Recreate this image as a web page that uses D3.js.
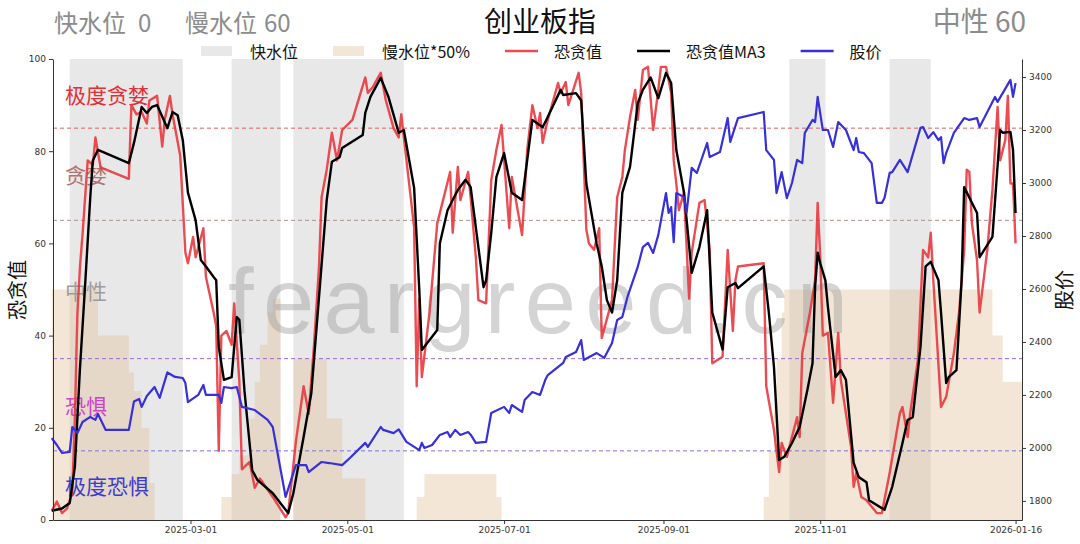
<!DOCTYPE html>
<html>
<head>
<meta charset="utf-8">
<script src="https://cdn.jsdelivr.net/npm/d3@7"></script>
<style>
  body { margin: 0; background: #fff; }
  svg { display: block; font-family: "Noto Sans CJK SC", "DejaVu Sans", sans-serif; }
  .eixo text { font-family: "DejaVu Sans", sans-serif; font-size: 9px; fill: #333; }
  .eixo path, .eixo line { stroke: #333; }
</style>
</head>
<body>
<svg id="grafico" width="1080" height="544"></svg>
<script>
// ---- dados ----
const titulo = "创业板指";
const fastLevel = 0;
const slowLevel = 60;
const moodName = "中性";
const moodValue = 60;

// 恐贪值 (escala esquerda)
const fearGreed = [
  ["2025-01-06",2],["2025-01-08",4],["2025-01-10",1.5],["2025-01-12",2.5],["2025-01-14",6],["2025-01-15",22],
  ["2025-01-16",45],["2025-01-17",55],["2025-01-18",62],["2025-01-20",78],["2025-01-22",77],["2025-01-23",83],
  ["2025-01-25",76.5],["2025-02-05",74],["2025-02-06",90],["2025-02-08",88],["2025-02-10",88.5],["2025-02-12",86],
  ["2025-02-13",91],["2025-02-16",92],["2025-02-18",81],["2025-02-19",87],["2025-02-21",92],["2025-02-22",88],
  ["2025-02-25",79],["2025-02-27",58],["2025-02-28",55.7],["2025-03-02",61.4],["2025-03-03",57],["2025-03-06",63.3],
  ["2025-03-07",52.7],["2025-03-10",45],["2025-03-11",42],["2025-03-12",15],["2025-03-13",40],["2025-03-15",41],
  ["2025-03-17",38],["2025-03-18",47],["2025-03-20",30],["2025-03-21",11],["2025-03-24",12.6],["2025-03-26",7],
  ["2025-03-28",9],["2025-04-02",5],["2025-04-07",0.6],["2025-04-08",1.5],["2025-04-11",17],["2025-04-14",29],
  ["2025-04-16",23],["2025-04-18",37.5],["2025-04-20",55],["2025-04-21",70],["2025-04-23",76],["2025-04-25",84],
  ["2025-04-27",78],["2025-04-29",84.6],["2025-05-03",86.8],["2025-05-08",96],["2025-05-09",92.6],["2025-05-11",94],
  ["2025-05-14",97],["2025-05-16",91],["2025-05-19",85],["2025-05-21",83],["2025-05-22",88],["2025-05-23",83],
  ["2025-05-27",63.5],["2025-05-28",29],["2025-05-29",48],["2025-05-30",31],["2025-06-02",45],["2025-06-05",64.4],
  ["2025-06-07",68.8],["2025-06-10",75.5],["2025-06-11",62.3],["2025-06-13",76.6],["2025-06-14",69.4],["2025-06-17",75.5],
  ["2025-06-18",70],["2025-06-20",57],["2025-06-21",47.7],["2025-06-24",47],["2025-06-26",73.7],["2025-06-28",80.3],
  ["2025-06-30",85.7],["2025-07-03",63.3],["2025-07-04",74.4],["2025-07-08",61.8],["2025-07-10",80.3],["2025-07-12",90],
  ["2025-07-14",85],["2025-07-15",88.3],["2025-07-16",81.8],["2025-07-18",86.8],["2025-07-22",94.8],["2025-07-23",92.6],
  ["2025-07-25",95],["2025-07-26",90],["2025-07-30",97],["2025-07-31",92.6],["2025-08-02",63],["2025-08-03",60],
  ["2025-08-05",58.6],["2025-08-07",63.3],["2025-08-08",39.5],["2025-08-12",47.7],["2025-08-14",70],["2025-08-16",74.4],
  ["2025-08-17",80.3],["2025-08-19",87.4],["2025-08-21",93.3],["2025-08-22",86.8],["2025-08-24",97.6],["2025-08-26",98.3],
  ["2025-08-28",84.6],["2025-08-30",93.3],["2025-08-31",98.3],["2025-09-02",98.3],["2025-09-04",92.6],["2025-09-05",78],
  ["2025-09-06",73],["2025-09-07",67.2],["2025-09-09",71],["2025-09-11",48],["2025-09-12",58],["2025-09-15",68.8],
  ["2025-09-17",69.4],["2025-09-19",58.6],["2025-09-20",34],["2025-09-24",35.4],["2025-09-26",58.6],["2025-09-28",41],
  ["2025-09-29",52],["2025-09-30",55],["2025-10-10",55.7],["2025-10-11",29],["2025-10-14",19.5],["2025-10-16",10.4],
  ["2025-10-17",16.7],["2025-10-19",13.7],["2025-10-23",22.3],["2025-10-24",18],["2025-10-25",36.2],["2025-10-28",45],
  ["2025-10-30",52],["2025-10-31",68.8],["2025-11-01",57],["2025-11-02",40],["2025-11-04",40.6],["2025-11-06",25.4],
  ["2025-11-08",40.6],["2025-11-09",30.4],["2025-11-13",15.8],["2025-11-14",7.2],["2025-11-15",10.2],["2025-11-17",5],
  ["2025-11-19",4.3],["2025-11-23",1.5],["2025-11-25",1.5],["2025-11-28",10.2],["2025-12-02",23.2],["2025-12-03",24.5],
  ["2025-12-05",18],["2025-12-06",23.2],["2025-12-09",34.7],["2025-12-11",58.6],["2025-12-13",57],["2025-12-14",62.3],
  ["2025-12-15",52],["2025-12-18",24.5],["2025-12-20",26.7],["2025-12-23",36.2],["2025-12-25",45],["2025-12-27",58.6],
  ["2025-12-28",76],["2025-12-29",75.5],["2025-12-30",64.4],["2026-01-01",56.4],["2026-01-02",45],["2026-01-05",58.6],
  ["2026-01-07",71.6],["2026-01-09",89.6],["2026-01-10",78],["2026-01-12",82.4],["2026-01-13",92],["2026-01-14",73],
  ["2026-01-15",73],["2026-01-16",60]
];

// 恐贪值MA3
const fearGreedMA3 = [
  ["2025-01-06",2],["2025-01-10",2.5],["2025-01-13",3.7],["2025-01-15",11.5],["2025-01-17",33],["2025-01-19",51],
  ["2025-01-21",70],["2025-01-22",78],["2025-01-24",80.3],["2025-02-05",77.4],["2025-02-07",81.8],["2025-02-10",89.6],
  ["2025-02-12",88.3],["2025-02-14",89.6],["2025-02-16",90],["2025-02-20",85],["2025-02-22",88.5],["2025-02-24",87.8],
  ["2025-02-26",82.4],["2025-02-28",71],["2025-03-03",65],["2025-03-05",56.4],["2025-03-07",55],["2025-03-10",52.7],
  ["2025-03-11",52],["2025-03-12",37.5],["2025-03-14",30.4],["2025-03-17",31],["2025-03-19",44],["2025-03-20",43.4],
  ["2025-03-22",28],["2025-03-25",10.8],["2025-03-27",8.7],["2025-04-02",5.8],["2025-04-08",1.5],["2025-04-10",5.8],
  ["2025-04-14",18],["2025-04-17",27.5],["2025-04-20",48.4],["2025-04-23",69.4],["2025-04-25",77.7],["2025-04-28",78.7],
  ["2025-04-29",80.7],["2025-05-07",83.5],["2025-05-08",88.3],["2025-05-10",91.8],["2025-05-14",95.9],["2025-05-17",91.8],
  ["2025-05-21",84],["2025-05-23",84.6],["2025-05-27",72],["2025-05-29",50],["2025-05-30",36.9],["2025-06-05",41.2],
  ["2025-06-06",60],["2025-06-09",67.2],["2025-06-11",69.4],["2025-06-13",71.6],["2025-06-16",73.8],["2025-06-18",72.2],
  ["2025-06-21",59.2],["2025-06-23",50.5],["2025-06-24",52],["2025-06-26",62.3],["2025-06-28",74.4],["2025-07-01",79.6],
  ["2025-07-04",71],["2025-07-08",69.4],["2025-07-12",86.8],["2025-07-16",85.2],["2025-07-17",86.3],["2025-07-23",93.3],
  ["2025-07-24",92.2],["2025-07-29",92.6],["2025-07-31",91],["2025-08-02",73],["2025-08-06",60],["2025-08-08",55],
  ["2025-08-10",47.7],["2025-08-12",45],["2025-08-14",52],["2025-08-16",71],["2025-08-19",76.6],["2025-08-22",90.4],
  ["2025-08-24",93.3],["2025-08-27",96],["2025-08-30",91.5],["2025-09-02",97],["2025-09-04",94.8],["2025-09-06",80.3],
  ["2025-09-09",71],["2025-09-12",53.6],["2025-09-15",59.2],["2025-09-18",67.2],["2025-09-20",45],["2025-09-24",37],
  ["2025-09-26",50.5],["2025-09-29",51.4],["2025-09-30",50.3],["2025-10-10",55],["2025-10-12",45],["2025-10-14",33.2],
  ["2025-10-16",13],["2025-10-18",13.7],["2025-10-21",16.7],["2025-10-24",20.2],["2025-10-27",28.2],["2025-10-29",34],
  ["2025-10-30",50.5],["2025-10-31",58],["2025-11-01",55.7],["2025-11-03",52],["2025-11-04",46.2],["2025-11-07",31],
  ["2025-11-09",32.5],["2025-11-11",30.4],["2025-11-14",12.4],["2025-11-16",9.3],["2025-11-19",8.2],["2025-11-20",4.3],
  ["2025-11-26",2.2],["2025-11-29",7.2],["2025-12-03",16.7],["2025-12-05",21.7],["2025-12-07",22.3],["2025-12-10",37.5],
  ["2025-12-12",55],["2025-12-14",56],["2025-12-17",52],["2025-12-18",45],["2025-12-20",29.7],["2025-12-21",31],
  ["2025-12-24",32.5],["2025-12-26",52],["2025-12-27",72.2],["2026-01-01",66.6],["2026-01-02",57],["2026-01-07",61.4],
  ["2026-01-10",84.6],["2026-01-11",84],["2026-01-14",84.2],["2026-01-15",80.3],["2026-01-16",66.6]
];

// 股价 (escala direita)
const price = [
  ["2025-01-06",2037],["2025-01-08",2011],["2025-01-10",1981],["2025-01-13",1985],["2025-01-14",2079],["2025-01-16",2056],
  ["2025-01-18",2098],["2025-01-21",2117],["2025-01-23",2106],["2025-01-24",2128],["2025-01-27",2068],["2025-02-05",2068],
  ["2025-02-07",2175],["2025-02-09",2185],["2025-02-10",2155],["2025-02-12",2196],["2025-02-15",2230],["2025-02-17",2189],
  ["2025-02-20",2285],["2025-02-23",2268],["2025-02-26",2264],["2025-02-27",2245],["2025-02-28",2173],["2025-03-04",2200],
  ["2025-03-06",2238],["2025-03-07",2200],["2025-03-12",2200],["2025-03-13",2170],["2025-03-14",2230],["2025-03-17",2226],
  ["2025-03-19",2230],["2025-03-21",2155],["2025-03-26",2143],["2025-03-31",2106],["2025-04-02",2079],["2025-04-07",1815],
  ["2025-04-10",1905],["2025-04-11",1935],["2025-04-15",1935],["2025-04-16",1909],["2025-04-21",1947],["2025-04-24",1943],
  ["2025-04-29",1935],["2025-05-02",1962],["2025-05-08",2019],["2025-05-09",2004],["2025-05-14",2079],["2025-05-15",2068],
  ["2025-05-19",2056],["2025-05-21",2070],["2025-05-24",2023],["2025-05-29",1992],["2025-05-30",2019],["2025-05-31",2000],
  ["2025-06-03",2011],["2025-06-06",2049],["2025-06-09",2060],["2025-06-10",2041],["2025-06-12",2068],["2025-06-14",2049],
  ["2025-06-17",2060],["2025-06-18",2050],["2025-06-20",2019],["2025-06-24",2023],["2025-06-26",2132],["2025-07-01",2155],
  ["2025-07-03",2132],["2025-07-04",2162],["2025-07-08",2136],["2025-07-09",2181],["2025-07-12",2211],["2025-07-15",2200],
  ["2025-07-17",2256],["2025-07-18",2275],["2025-07-24",2321],["2025-07-25",2343],["2025-07-29",2362],["2025-07-31",2407],
  ["2025-08-01",2332],["2025-08-06",2358],["2025-08-09",2340],["2025-08-12",2396],["2025-08-14",2483],["2025-08-16",2494],
  ["2025-08-18",2570],["2025-08-22",2683],["2025-08-24",2758],["2025-08-26",2774],["2025-08-28",2736],["2025-08-30",2804],
  ["2025-09-02",2962],["2025-09-03",2887],["2025-09-04",2909],["2025-09-05",2777],["2025-09-06",2962],["2025-09-09",2947],
  ["2025-09-10",2887],["2025-09-12",3057],["2025-09-14",3038],["2025-09-18",3151],["2025-09-19",3098],["2025-09-23",3117],
  ["2025-09-26",3245],["2025-09-27",3155],["2025-09-30",3245],["2025-10-10",3268],["2025-10-11",3124],["2025-10-14",3087],
  ["2025-10-15",2962],["2025-10-17",3041],["2025-10-19",2943],["2025-10-21",3000],["2025-10-23",3087],["2025-10-25",3075],
  ["2025-10-26",3189],["2025-10-29",3238],["2025-10-30",3230],["2025-10-31",3325],["2025-11-02",3200],["2025-11-04",3200],
  ["2025-11-06",3136],["2025-11-08",3230],["2025-11-11",3200],["2025-11-14",3124],["2025-11-15",3170],["2025-11-16",3117],
  ["2025-11-18",3113],["2025-11-21",3075],["2025-11-23",2925],["2025-11-25",2925],["2025-11-26",2943],["2025-11-28",3038],
  ["2025-11-29",3041],["2025-12-02",3087],["2025-12-05",3041],["2025-12-10",3208],["2025-12-11",3211],["2025-12-13",3170],
  ["2025-12-15",3192],["2025-12-17",3162],["2025-12-18",3173],["2025-12-19",3075],["2025-12-20",3113],["2025-12-23",3189],
  ["2025-12-27",3245],["2025-12-29",3238],["2026-01-01",3245],["2026-01-02",3211],["2026-01-08",3325],["2026-01-09",3306],
  ["2026-01-14",3389],["2026-01-15",3325],["2026-01-16",3377]
];

// 快水位: periodos ativos (faixas cinza)
const fastWater = [
  ["2025-01-13","2025-02-26"],
  ["2025-03-17","2025-04-05"],
  ["2025-04-10","2025-05-23"],
  ["2025-10-20","2025-11-03"],
  ["2025-11-28","2025-12-14"]
];

// 慢水位*50% (degraus)
const slowWater50 = [
  ["2025-01-06",50],["2025-01-24",40],["2025-02-05",32],["2025-02-07",28],["2025-02-10",20],["2025-02-13",8],
  ["2025-02-15",0],["2025-03-13",5],["2025-03-17",10],["2025-03-20",14],["2025-03-24",22],["2025-03-26",30],
  ["2025-03-28",38],["2025-03-31",45],["2025-04-02",48],["2025-04-05",0],["2025-04-10",35],["2025-04-23",22],
  ["2025-04-29",9],["2025-05-08",0],["2025-05-28",5],["2025-05-31",10],["2025-06-28",5],["2025-06-30",0],
  ["2025-10-10",5],["2025-10-12",15],["2025-10-14",25],["2025-10-15",35],["2025-10-17",45],["2025-10-18",50],
  ["2026-01-07",40],["2026-01-11",30],["2026-01-16",30]
];

const zoneLines = [85, 65, 35, 15];
const zoneLabels = ["极度贪婪", "贪婪", "中性", "恐惧", "极度恐惧"];
const zoneCenters = [92.5, 75, 50, 25, 7.5];

const xTicks = ["2025-03-01", "2025-05-01", "2025-07-01", "2025-09-01", "2025-11-01", "2026-01-16"];
const yTicks = [0, 20, 40, 60, 80, 100];
const priceTicks = [1800, 2000, 2200, 2400, 2600, 2800, 3000, 3200, 3400];
const legendNames = ["快水位", "慢水位*50%", "恐贪值", "恐贪值MA3", "股价"];

// ---- estilos ----
const cores = {
  fast: "#d9d9d9", slow: "#e4c199", fg: "#e8333a", ma: "#000000", price: "#3730d8",
  header: "#8c8c8c", watermark: "#a0a0a0"
};
const coresLinhasZona = ["#e06060", "#b09090", "#9a6ad6", "#7c74dc"];
const coresTextoZona = ["#e0303a", "#b07272", "#9c9c9c", "#cc44cc", "#3b3bd0"];

// ---- montagem ----
const parse = d3.timeParse("%Y-%m-%d");
const svg = d3.select("#grafico");
const area = { left: 53, right: 1022, top: 59, bottom: 520 };

const x = d3.scaleTime()
  .domain([new Date(2025, 0, 6, 12), new Date(2026, 0, 18, 12)])
  .range([area.left, area.right]);
const y = d3.scaleLinear().domain([0, 100]).range([area.bottom, area.top]);
const yPrice = d3.scaleLinear().domain([1728, 3468]).range([area.bottom, area.top]);

const converter = lista => lista.map(([d, v]) => ({ date: parse(d), v }));
const fg = converter(fearGreed);
const ma = converter(fearGreedMA3);
const px = converter(price);
const slow = converter(slowWater50);
// o ultimo degrau vai ate a borda do grafico
slow.push({ date: x.domain()[1], v: slow[slow.length - 1].v });

// faixas do 快水位
svg.append("g").selectAll("rect")
  .data(fastWater)
  .enter().append("rect")
    .attr("x", d => x(parse(d[0])))
    .attr("width", d => x(parse(d[1])) - x(parse(d[0])))
    .attr("y", area.top)
    .attr("height", area.bottom - area.top)
    .attr("fill", cores.fast)
    .attr("fill-opacity", 0.6);

// area do 慢水位*50%
svg.append("path")
  .datum(slow)
  .attr("fill", cores.slow)
  .attr("fill-opacity", 0.4)
  .attr("d", d3.area().curve(d3.curveStepAfter)
    .x(d => x(d.date)).y0(y(0)).y1(d => y(d.v)));

// marca d'agua
svg.append("text")
  .attr("x", 228).attr("y", 333)
  .attr("textLength", 620).attr("lengthAdjust", "spacing")
  .style("font-family", "'Liberation Sans', Arial, sans-serif")
  .style("font-size", "92px")
  .attr("fill", cores.watermark).attr("fill-opacity", 0.45)
  .text("feargreed.cn");

// linhas tracejadas das zonas
svg.append("g").selectAll("line")
  .data(zoneLines)
  .enter().append("line")
    .attr("x1", area.left).attr("x2", area.right)
    .attr("y1", d => y(d)).attr("y2", d => y(d))
    .attr("stroke", (d, i) => coresLinhasZona[i])
    .attr("stroke-width", 1)
    .attr("stroke-dasharray", "4,3");

// rotulos das zonas
svg.append("g").selectAll("text")
  .data(zoneLabels)
  .enter().append("text")
    .attr("x", 65)
    .attr("y", (d, i) => y(zoneCenters[i]))
    .attr("dominant-baseline", "central")
    .attr("fill", (d, i) => coresTextoZona[i])
    .style("font-size", "21px")
    .text(d => d);

// series
const linha = d3.line().x(d => x(d.date)).y(d => y(d.v));
const linhaPreco = d3.line().x(d => x(d.date)).y(d => yPrice(d.v));

svg.append("path").datum(fg)
  .attr("fill", "none").attr("stroke", cores.fg).attr("stroke-opacity", 0.88)
  .attr("stroke-width", 2.4).attr("stroke-linejoin", "round").attr("d", linha);
svg.append("path").datum(ma)
  .attr("fill", "none").attr("stroke", cores.ma)
  .attr("stroke-width", 2.4).attr("stroke-linejoin", "round").attr("d", linha);
svg.append("path").datum(px)
  .attr("fill", "none").attr("stroke", cores.price)
  .attr("stroke-width", 2.2).attr("stroke-linejoin", "round").attr("d", linhaPreco);

// eixos
svg.append("g").attr("class", "eixo")
  .attr("transform", `translate(${area.left},0)`)
  .call(d3.axisLeft(y).tickValues(yTicks).tickSize(4).tickSizeOuter(0).tickPadding(3));
svg.append("g").attr("class", "eixo")
  .attr("transform", `translate(${area.right},0)`)
  .call(d3.axisRight(yPrice).tickValues(priceTicks).tickFormat(d3.format("d"))
    .tickSize(4).tickSizeOuter(0).tickPadding(3));
svg.append("g").attr("class", "eixo")
  .attr("transform", `translate(0,${area.bottom})`)
  .call(d3.axisBottom(x).tickValues(xTicks.map(parse))
    .tickFormat(d3.timeFormat("%Y-%m-%d")).tickSize(4).tickSizeOuter(0).tickPadding(3));

// titulos dos eixos
svg.append("text")
  .attr("transform", "translate(25,290) rotate(-90)")
  .attr("text-anchor", "middle").style("font-size", "20px").attr("fill", "#111")
  .text("恐贪值");
svg.append("text")
  .attr("transform", "translate(1072,290) rotate(-90)")
  .attr("text-anchor", "middle").style("font-size", "20px").attr("fill", "#111")
  .text("股价");

// cabecalho
svg.append("text").attr("x", 540).attr("y", 32).attr("text-anchor", "middle")
  .style("font-size", "28px").attr("fill", "#111").text(titulo);

const cabecalho = svg.append("text").attr("x", 54).attr("y", 32)
  .style("font-size", "24px").attr("fill", cores.header);
cabecalho.append("tspan").text("快水位");
cabecalho.append("tspan").attr("dx", 12).text(fastLevel);
cabecalho.append("tspan").attr("x", 185).text("慢水位");
cabecalho.append("tspan").attr("dx", 7).text(slowLevel);

svg.append("text").attr("x", 1026).attr("y", 32).attr("text-anchor", "end")
  .style("font-size", "28px").attr("fill", cores.header).text(`${moodName} ${moodValue}`);

// legenda
const estiloLegenda = [
  { tipo: "rect", cor: cores.fast, op: 0.6 },
  { tipo: "rect", cor: cores.slow, op: 0.4 },
  { tipo: "linha", cor: cores.fg, op: 0.88 },
  { tipo: "linha", cor: cores.ma, op: 1 },
  { tipo: "linha", cor: cores.price, op: 1 }
];
const legenda = svg.append("g");
let cursor = 201;
legendNames.forEach((nome, i) => {
  const est = estiloLegenda[i];
  if (est.tipo === "rect") {
    legenda.append("rect").attr("x", cursor).attr("y", 46).attr("width", 31).attr("height", 10)
      .attr("fill", est.cor).attr("fill-opacity", est.op);
  } else {
    legenda.append("line").attr("x1", cursor).attr("x2", cursor + 33).attr("y1", 51).attr("y2", 51)
      .attr("stroke", est.cor).attr("stroke-opacity", est.op).attr("stroke-width", 2.4);
  }
  const t = legenda.append("text").attr("x", cursor + 49).attr("y", 51)
    .attr("dominant-baseline", "central").style("font-size", "16px").attr("fill", "#111")
    .text(nome);
  cursor += 49 + t.node().getComputedTextLength() + 35;
});
</script>
</body>
</html>
